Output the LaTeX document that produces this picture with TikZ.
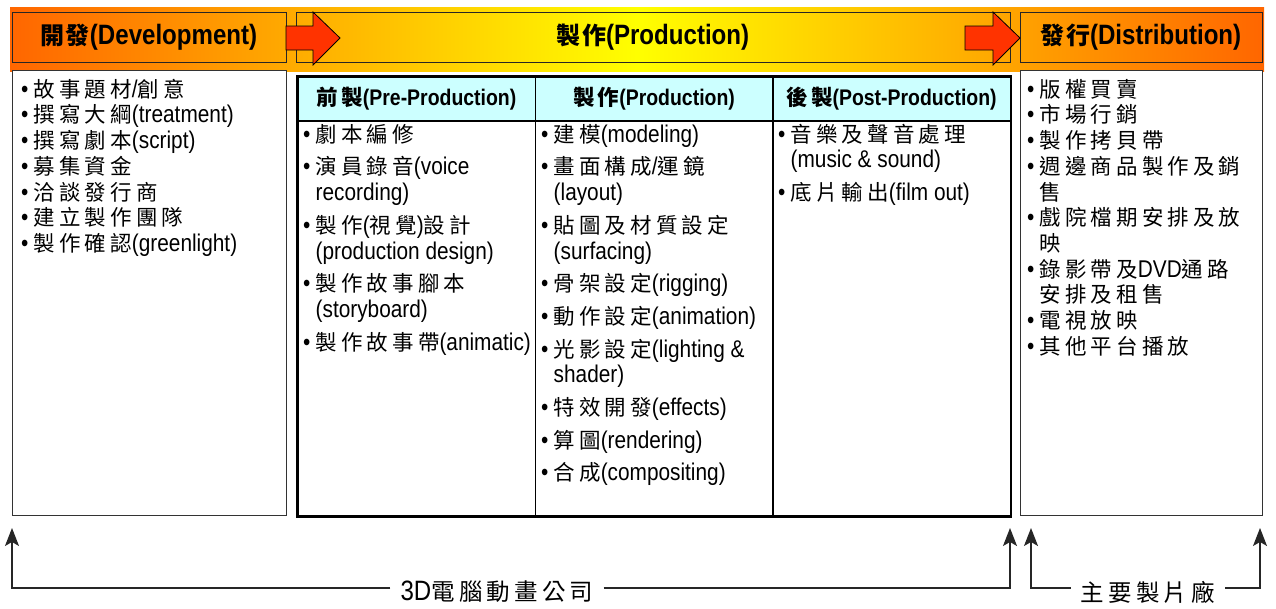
\documentclass[tikz,border=0pt]{standalone}
\usepackage{fontspec}
\setmainfont{Liberation Sans}[FakeStretch=0.86]
\newfontfamily\zhA{Noto Sans CJK TC}[LetterSpace=19]
\newfontfamily\zhB{Noto Sans CJK TC}[LetterSpace=5]
\newfontfamily\zhC{Noto Sans CJK TC}[LetterSpace=15]
\newfontfamily\zhD{Noto Sans CJK TC}[LetterSpace=18]
\usetikzlibrary{arrows.meta,shadings}
\definecolor{bandorange}{HTML}{FF6600}
\definecolor{bandyellow}{HTML}{FFFF00}
\definecolor{arrowred}{HTML}{FF3300}
\definecolor{hdrcyan}{HTML}{CCFFFF}
\def\zhcur{\zhA}
\newcommand\zh[1]{{\zhcur #1}}
\newcommand\bodyfont{\fontsize{24.2}{25.7}\selectfont\def\zhcur{\zhA\fontsize{21.5}{25.7}\selectfont}}
\newcommand\hdrfont{\fontsize{28}{30}\selectfont\bfseries\def\zhcur{\zhB\fontsize{24}{30}\selectfont}}
\newcommand\subfont{\fontsize{22.6}{26}\selectfont\bfseries\def\zhcur{\zhC\fontsize{21.5}{26}\selectfont}}
\newcommand\lblfont{\fontsize{28}{30}\selectfont\def\zhcur{\zhD\fontsize{23.5}{30}\selectfont}}
\newcommand\bu{\makebox[12.5pt][l]{\textbullet}}
\newcommand\ct{\hspace*{12.5pt}}
\newcommand\topstrut{\rule{0pt}{26pt}}
\begin{document}
\begin{tikzpicture}[x=1pt,y=-1pt,
  hdrbox/.style={draw=black!85, line width=1pt, minimum height=50pt, inner sep=0pt, font=\hdrfont},
  listbox/.style={draw=black!80, line width=1.3pt, inner sep=0pt, anchor=north west},
  cellhead/.style={draw=black, line width=1.5pt, fill=hdrcyan, minimum height=44pt, minimum width=237.5pt, inner sep=0pt, anchor=north west, font=\subfont},
  cellbody/.style={draw=black, line width=1.5pt, minimum height=395pt, minimum width=237.5pt, inner sep=0pt, anchor=north west},
  itemtext/.style={anchor=north west, align=left, inner sep=0pt, font=\bodyfont},
  redarrow/.style={fill=arrowred, draw=black, line width=0.8pt},
  conn/.style={line width=1.3pt, draw=black!85},
  tipend/.style={-{Stealth[length=18pt,width=14pt,inset=4pt]}},
  lbl/.style={inner xsep=10pt, inner ysep=0pt, font=\lblfont}
]
\useasboundingbox (0,0) rectangle (1276,608);
% gradient band
\shade[left color=bandorange,right color=bandorange,middle color=bandyellow] (10,7) rectangle (1264,71);
% header boxes
\node[hdrbox, minimum width=274pt] (dev) at (149,37) {\zh{開發}(Development)};
\node[hdrbox, minimum width=714pt] (prod) at (653,37) {\zh{製作}(Production)};
\node[hdrbox, minimum width=242pt] (dist) at (1141,37) {\zh{發行}(Distribution)};
% red arrows
\draw[redarrow] (286,26) -- (313,26) -- (313,12) -- (340,38) -- (313,65) -- (313,50) -- (286,50) -- cycle;
\draw[redarrow] (965,26) -- (993,26) -- (993,12) -- (1020,38) -- (993,65) -- (993,50) -- (965,50) -- cycle;
% list boxes
\node[listbox, fill=white, minimum width=274pt, minimum height=445pt] (devlist) at (12,70) {};
\node[listbox, fill=white, minimum width=242pt, minimum height=445pt] (distlist) at (1020,70) {};
% table
\fill[white] (297,73) rectangle (1010,516);
\node[cellhead] (prehd) at (297,76) {\zh{前製}(Pre-Production)};
\node[cellhead] (prodhd) at (534.5,76) {\zh{製作}(Production)};
\node[cellhead] (posthd) at (772,76) {\zh{後製}(Post-Production)};
\node[cellbody] (prebd) at (297,120) {};
\node[cellbody] (prodbd) at (534.5,120) {};
\node[cellbody] (postbd) at (772,120) {};
\draw[line width=2pt] (prehd.north west) rectangle (postbd.south east);
% list texts
\node[itemtext] (devtext) at (21,71) {%
\topstrut\bu\zh{故事題材}/\zh{創意}\\
\bu\zh{撰寫大綱}(treatment)\\
\bu\zh{撰寫劇本}(script)\\
\bu\zh{募集資金}\\
\bu\zh{洽談發行商}\\
\bu\zh{建立製作團隊}\\
\bu\zh{製作確認}(greenlight)};
\node[itemtext] (pretext) at (303,116) {%
\topstrut\bu\zh{劇本編修}\\[7pt]
\bu\zh{演員錄音}(voice\\
\ct recording)\\[7pt]
\bu\zh{製作}(\zh{視覺})\zh{設計}\\
\ct(production design)\\[7pt]
\bu\zh{製作故事腳本}\\
\ct(storyboard)\\[7pt]
\bu\zh{製作故事帶}(animatic)};
\node[itemtext] (prodtext) at (541,116) {%
\topstrut\bu\zh{建模}(modeling)\\[7pt]
\bu\zh{畫面構成}/\zh{運鏡}\\
\ct(layout)\\[7pt]
\bu\zh{貼圖及材質設定}\\
\ct(surfacing)\\[7pt]
\bu\zh{骨架設定}(rigging)\\[7pt]
\bu\zh{動作設定}(animation)\\[7pt]
\bu\zh{光影設定}(lighting \&\\
\ct shader)\\[7pt]
\bu\zh{特效開發}(effects)\\[7pt]
\bu\zh{算圖}(rendering)\\[7pt]
\bu\zh{合成}(compositing)};
\node[itemtext] (posttext) at (778,116) {%
\topstrut\bu\zh{音樂及聲音處理}\\
\ct(music \& sound)\\[7pt]
\bu\zh{底片輸出}(film out)};
\node[itemtext] (disttext) at (1027,71) {%
\topstrut\bu\zh{版權買賣}\\
\bu\zh{市場行銷}\\
\bu\zh{製作拷貝帶}\\
\bu\zh{週邊商品製作及銷}\\
\ct\zh{售}\\
\bu\zh{戲院檔期安排及放}\\
\ct\zh{映}\\
\bu\zh{錄影帶及}DVD\zh{通路}\\
\ct\zh{安排及租售}\\
\bu\zh{電視放映}\\
\bu\zh{其他平台播放}};
% bottom connectors
\coordinate (tipA) at (12,528);
\coordinate (cA) at (12,588);
\coordinate (tipB) at (1010,528);
\coordinate (cB) at (1010,588);
\node[lbl] (lblA) at (497,592) {3D\zh{電腦動畫公司}};
\draw[conn,tipend] (lblA.west |- cA) -- (cA) -- (tipA);
\draw[conn,tipend] (lblA.east |- cB) -- (cB) -- (tipB);
\coordinate (tipC) at (1031,528);
\coordinate (cC) at (1031,588);
\coordinate (tipD) at (1260,528);
\coordinate (cD) at (1260,588);
\node[lbl] (lblB) at (1148,592) {\zh{主要製片廠}};
\draw[conn,tipend] (lblB.west |- cC) -- (cC) -- (tipC);
\draw[conn,tipend] (lblB.east |- cD) -- (cD) -- (tipD);
\end{tikzpicture}
\end{document}
